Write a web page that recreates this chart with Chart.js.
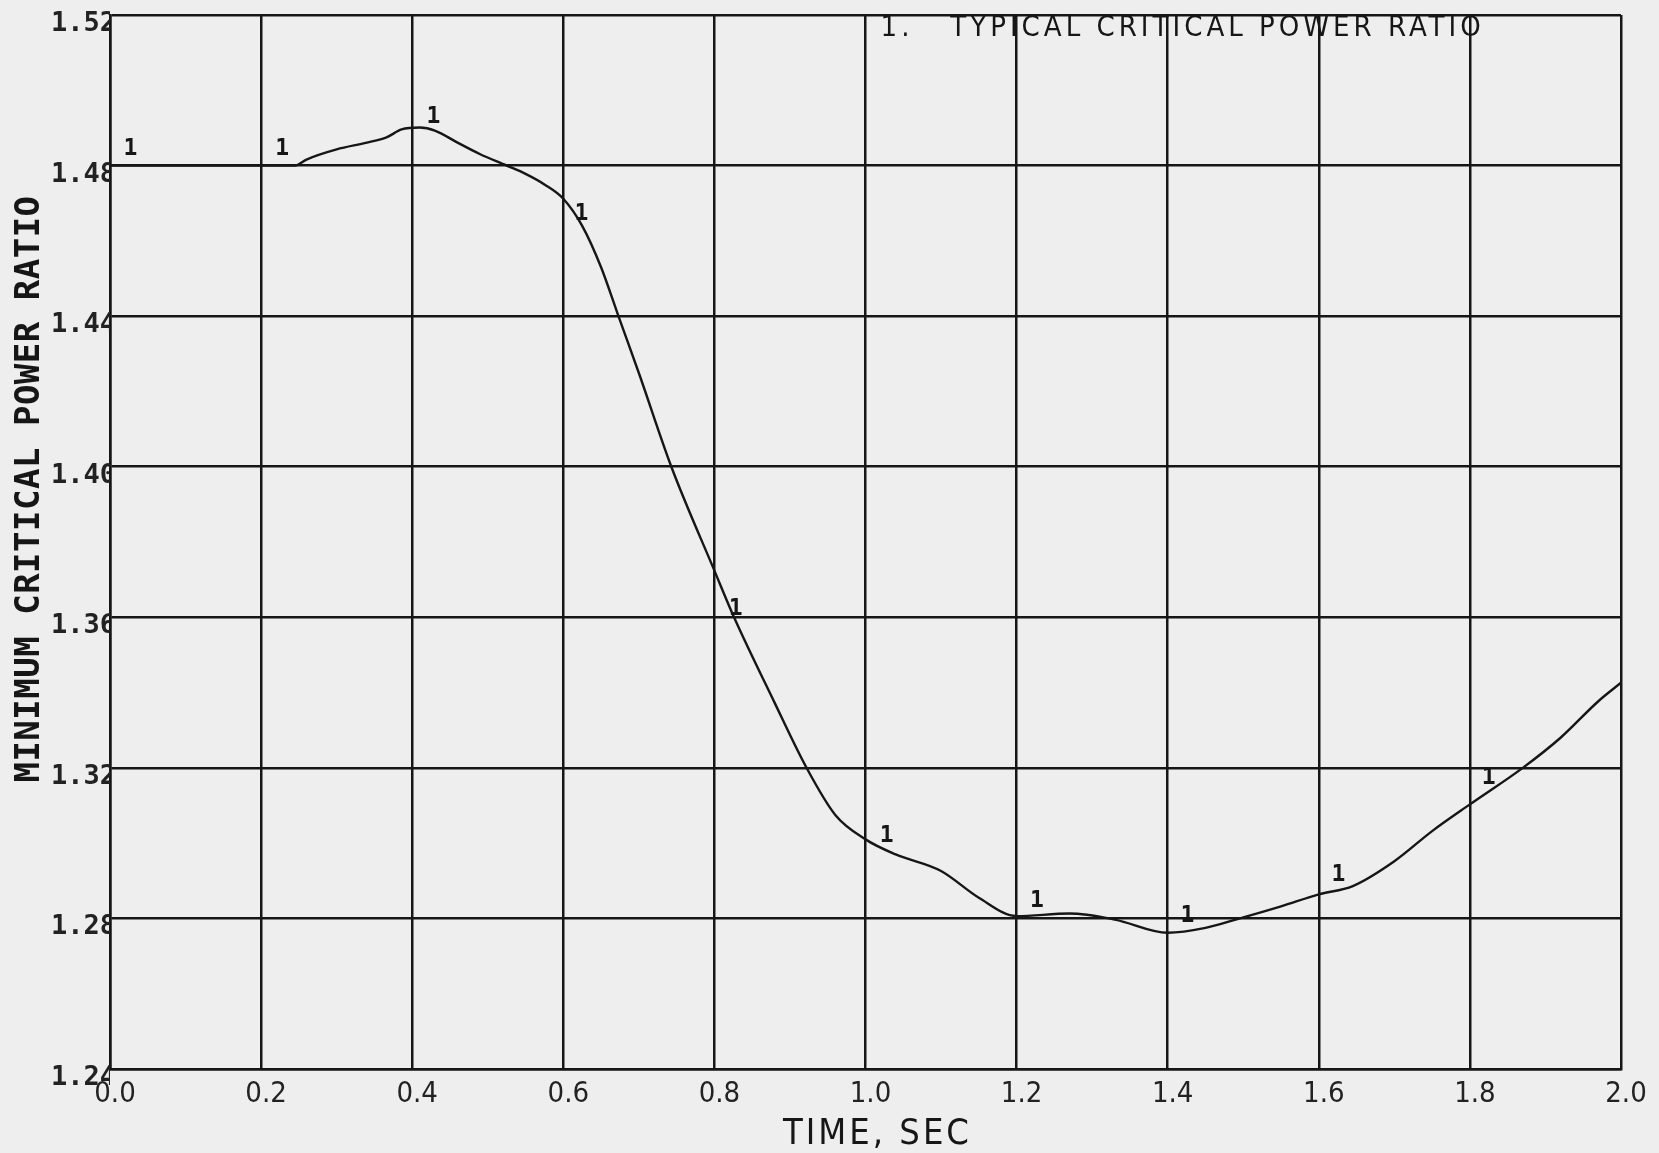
<!DOCTYPE html>
<html lang="en">
<head>
    <meta charset="UTF-8">
    <title>Minimum Critical Power Ratio</title>
    <script src="https://cdn.jsdelivr.net/npm/chart.js"></script>
    <style>
        html, body { margin: 0; padding: 0; background: #eeeeee; }
        #wrap { width: 1659px; height: 1153px; position: relative; }
    </style>
</head>
<body>
    <div id="wrap"><canvas id="chart" width="1659" height="1153"></canvas></div>

    <script>
        // curve
        const time = [0, 0.10, 0.20, 0.245, 0.26, 0.30, 0.34, 0.366, 0.386, 0.41, 0.43, 0.46, 0.49, 0.525, 0.55, 0.575, 0.60, 0.625, 0.65, 0.673, 0.70, 0.743, 0.80, 0.826, 0.879, 0.922, 0.96, 1.00, 1.04, 1.10, 1.15, 1.20, 1.27, 1.33, 1.40, 1.45, 1.49, 1.55, 1.60, 1.645, 1.70, 1.75, 1.80, 1.87, 1.92, 1.97, 2.00];
        const mcpr = [1.480, 1.480, 1.480, 1.480, 1.4816, 1.4843, 1.4861, 1.4875, 1.4896, 1.4901, 1.4893, 1.4861, 1.4830, 1.4800, 1.4778, 1.4750, 1.4712, 1.4640, 1.4530, 1.4400, 1.4249, 1.4000, 1.3724, 1.3600, 1.3376, 1.3200, 1.3075, 1.3010, 1.2970, 1.2926, 1.2855, 1.2806, 1.2813, 1.2797, 1.2762, 1.2775, 1.2797, 1.2832, 1.2864, 1.2886, 1.2952, 1.3032, 1.3103, 1.3200, 1.3280, 1.3377, 1.3426];

        // the little "1" curve markers
        const markTime = [0.027, 0.228, 0.428, 0.624, 0.828, 1.028, 1.227, 1.426, 1.626, 1.825];
        const markValue = [1.4843, 1.4843, 1.4929, 1.4672, 1.3623, 1.3018, 1.2845, 1.2806, 1.2915, 1.3174];

        const xTicks = [0.0, 0.2, 0.4, 0.6, 0.8, 1.0, 1.2, 1.4, 1.6, 1.8, 2.0];
        const xTickLabels = ['0.0', '0.2', '0.4', '0.6', '0.8', '1.0', '1.2', '1.4', '1.6', '1.8', '2.0'];
        const yTicks = [1.24, 1.28, 1.32, 1.36, 1.40, 1.44, 1.48, 1.52];
        const yTickLabels = ['1.24', '1.28', '1.32', '1.36', '1.40', '1.44', '1.48', '1.52'];

        const seriesLabel = '1.   TYPICAL CRITICAL POWER RATIO';
        const xTitle = 'TIME, SEC';
        const yTitle = 'MINIMUM CRITICAL POWER RATIO';

        const ink = '#161616';

        const textPlugin = {
            id: 'plotText',
            afterDraw(chart) {
                const ctx = chart.ctx;
                const xs = chart.scales.x, ys = chart.scales.y;
                const area = chart.chartArea;
                ctx.save();
                ctx.fillStyle = ink;

                // markers
                ctx.font = 'bold 23px "DejaVu Sans Mono"';
                ctx.textAlign = 'center';
                ctx.textBaseline = 'middle';
                markTime.forEach((t, i) => {
                    ctx.fillText('1', xs.getPixelForValue(t), ys.getPixelForValue(markValue[i]));
                });

                // series label at top
                ctx.font = '29px "DejaVu Sans Condensed", "DejaVu Sans"';
                ctx.letterSpacing = '4px';
                ctx.textAlign = 'left';
                ctx.fillText(seriesLabel, xs.getPixelForValue(1.02), area.top + 13);

                // axis titles
                ctx.font = '36px "DejaVu Sans Condensed", "DejaVu Sans"';
                ctx.letterSpacing = '3px';
                ctx.textAlign = 'center';
                ctx.fillText(xTitle, (area.left + area.right) / 2 + 12, 1135);

                ctx.translate(30, 489);
                ctx.rotate(-Math.PI / 2);
                ctx.font = 'bold 34px "DejaVu Sans Mono"';
                ctx.letterSpacing = '0.5px';
                ctx.fillText(yTitle, 0, 0);
                ctx.restore();
            }
        };

        const bgPlugin = {
            id: 'paper',
            beforeDraw(chart) {
                const ctx = chart.ctx;
                ctx.save();
                ctx.fillStyle = '#eeeeee';
                ctx.fillRect(0, 0, chart.width, chart.height);
                ctx.restore();
            }
        };

        new Chart(document.getElementById('chart').getContext('2d'), {
            type: 'line',
            data: {
                datasets: [{
                    label: seriesLabel,
                    data: time.map((t, i) => ({ x: t, y: mcpr[i] })),
                    borderColor: ink,
                    borderWidth: 2.4,
                    pointRadius: 0,
                    fill: false,
                    cubicInterpolationMode: 'monotone'
                }]
            },
            options: {
                responsive: false,
                animation: false,
                layout: { padding: { top: 15, right: 38, left: 0, bottom: 0 } },
                plugins: {
                    legend: { display: false },
                    tooltip: { enabled: false }
                },
                scales: {
                    x: {
                        type: 'linear',
                        min: 0,
                        max: 2.0,
                        afterBuildTicks: s => { s.ticks = xTicks.map(v => ({ value: v })); },
                        afterFit: s => { s.height = 84; },
                        grid: { color: ink, lineWidth: 2.5, drawTicks: false },
                        border: { color: ink, width: 2.5 },
                        ticks: {
                            padding: 8,
                            labelOffset: 5,
                            color: '#222',
                            font: { family: '"DejaVu Sans Condensed", "DejaVu Sans"', size: 29 },
                            maxRotation: 0,
                            callback: (v, i) => xTickLabels[i]
                        }
                    },
                    y: {
                        type: 'linear',
                        min: 1.24,
                        max: 1.52,
                        afterBuildTicks: s => { s.ticks = yTicks.map(v => ({ value: v })); },
                        afterFit: s => { s.width = 110; },
                        grid: { color: ink, lineWidth: 2.5, drawTicks: false },
                        border: { color: ink, width: 2.5 },
                        ticks: {
                            padding: -6,
                            labelOffset: 9,
                            color: '#222',
                            font: { family: '"DejaVu Sans Mono"', size: 27, weight: 'bold' },
                            callback: (v, i) => yTickLabels[i]
                        }
                    }
                }
            },
            plugins: [bgPlugin, textPlugin]
        });
    </script>
</body>
</html>
